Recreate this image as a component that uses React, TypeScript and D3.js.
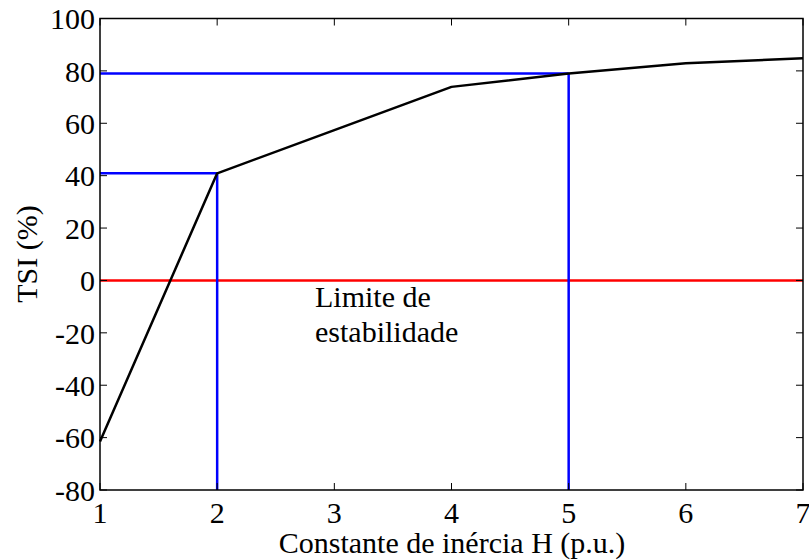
import * as d3 from "d3";

const W = 809;
const H = 560;

// inertia constant H (p.u.) and transient stability index (%)
const inertia = [1, 2, 3, 4, 5, 6, 7];
const tsi = [-61.5, 40.9, 57.4, 73.9, 79, 82.9, 84.8];

const xTicks = [1, 2, 3, 4, 5, 6, 7];
const yTicks = [-80, -60, -40, -20, 0, 20, 40, 60, 80, 100];

// blue guide lines: [H, TSI]
const guides = [
  [2, 40.9],
  [5, 79],
];

const stabilityLimit = 0;

const margin = { left: 100, right: 6, top: 18.5, bottom: 70 };
const font = "Liberation Serif, Times New Roman, DejaVu Serif, serif";

export default function App() {
  const x = d3.scaleLinear().domain([1, 7]).range([margin.left, W - margin.right]);
  const y = d3.scaleLinear().domain([-80, 100]).range([H - margin.bottom, margin.top]);

  const line = d3
    .line<number>()
    .x((_, i) => x(inertia[i]))
    .y((d) => y(d));

  const [x0, x1] = x.range();
  const [y0, y1] = y.range();
  const tick = 7;

  return (
    <svg
      width={W}
      height={H}
      style={{ position: "absolute", left: 0, top: 0, background: "#fff", fontFamily: font }}
    >
      {/* stability limit */}
      <line x1={x0} x2={x1} y1={y(stabilityLimit)} y2={y(stabilityLimit)} stroke="#ff0000" strokeWidth={2.5} />

      {/* guides */}
      {guides.map(([gx, gy], i) => (
        <g key={i} stroke="#0000ff" strokeWidth={2.5} fill="none">
          <line x1={x0} x2={x(gx)} y1={y(gy)} y2={y(gy)} />
          <line x1={x(gx)} x2={x(gx)} y1={y0} y2={y(gy)} />
        </g>
      ))}

      <path d={line(tsi) || ""} fill="none" stroke="#000" strokeWidth={2.5} strokeLinejoin="round" />

      {/* frame */}
      <rect x={x0} y={y1} width={x1 - x0} height={y0 - y1} fill="none" stroke="#000" strokeWidth={1.5} />

      {xTicks.map((t) => (
        <g key={"x" + t}>
          <line x1={x(t)} x2={x(t)} y1={y0} y2={y0 - tick} stroke="#000" />
          <line x1={x(t)} x2={x(t)} y1={y1} y2={y1 + tick} stroke="#000" />
          <text x={x(t)} y={y0 + 33} textAnchor="middle" fontSize={30} style={{ fontFamily: font }}>
            {t}
          </text>
        </g>
      ))}

      {yTicks.map((t) => (
        <g key={"y" + t}>
          <line x1={x0} x2={x0 + tick} y1={y(t)} y2={y(t)} stroke="#000" />
          <line x1={x1} x2={x1 - tick} y1={y(t)} y2={y(t)} stroke="#000" />
          <text x={x0 - 5} y={y(t)} dy="0.36em" textAnchor="end" fontSize={30} style={{ fontFamily: font }}>
            {t}
          </text>
        </g>
      ))}

      <text x={315} y={306.5} fontSize={30} style={{ fontFamily: font }}>
        Limite de
      </text>
      <text x={315} y={341.5} fontSize={30} style={{ fontFamily: font }}>
        estabilidade
      </text>

      <text x={452} y={553} textAnchor="middle" fontSize={30} style={{ fontFamily: font }}>
        Constante de inércia H (p.u.)
      </text>
      <text
        transform={`translate(37, 254) rotate(-90)`}
        textAnchor="middle"
        fontSize={30}
        style={{ fontFamily: font }}
      >
        TSI (%)
      </text>
    </svg>
  );
}
